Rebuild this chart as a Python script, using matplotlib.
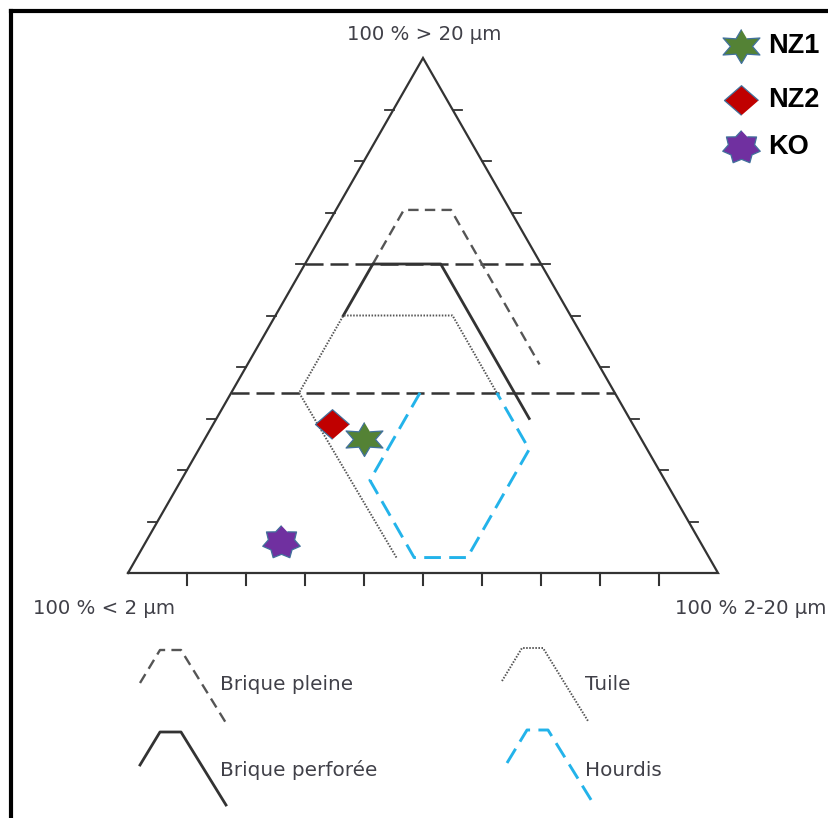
import numpy as np
import matplotlib.pyplot as plt
from matplotlib.lines import Line2D

plt.rcParams['lines.scale_dashes'] = False

# échantillons : % < 2 µm, % 2-20 µm, % > 20 µm
echantillons = ["NZ1", "NZ2", "KO"]
argile = [47, 51, 71]
limon = [27, 20, 23]
sable = [26, 29, 6]
couleurs = ["#548235", "#C00000", "#7030A0"]

# domaines (% 2-20 µm, % > 20 µm) le long de chaque contour
brique_pleine_limon = [11.5, 11.5, 19.5, 49.5]
brique_pleine_sable = [60, 70.5, 70.5, 40.5]
brique_perforee_limon = [11.5, 11.5, 23, 53]
brique_perforee_sable = [50, 60, 60, 30]
tuile_limon = [44, 11.5, 11.5, 30, 45]
tuile_sable = [3, 35, 50, 50, 35]
hourdis_limon = [32, 32, 47, 56, 56, 45]
hourdis_sable = [35, 18, 3, 3, 24, 35]
limites_sable = [60, 35]
graduations = [10, 20, 30, 40, 50, 60, 70, 80, 90]


def tern(l, s):
    l = np.asarray(l, float) / 100
    s = np.asarray(s, float) / 100
    return l + s / 2, s


def star(n, inner, stretch):
    a = np.pi / 2 + np.arange(2 * n) * np.pi / n
    r = np.where(np.arange(2 * n) % 2 == 0, 1.0, inner)
    return list(zip(stretch * r * np.cos(a), r * np.sin(a)))


marqueurs = [star(6, 0.52, 1.25), [(1.15, 0), (0, 1), (-1.15, 0), (0, -1)], star(7, 0.7, 1.14)]
tailles = [26.5, 24.5, 27]

W, H = 829, 818
fig = plt.figure(figsize=(W / 100, H / 100), dpi=100)
ax = fig.add_axes([0, 0, 1, 1])
ax.set_xlim(-128 / 590, 701 / 590)
ax.set_ylim(-245 / 515, 573 / 515)
ax.axis('off')

gris = "#333333"
# triangle
ax.plot([0, 1, 0.5, 0], [0, 0, 1, 0], color=gris, lw=1.6, solid_joinstyle='miter')
for g in graduations:
    x = g / 100
    ax.plot([x, x], [0, -12 / 515], color=gris, lw=1.5)
    y = g / 100
    ax.plot([y / 2 - 9 / 590, y / 2], [y, y], color=gris, lw=1.3)
    ax.plot([1 - y / 2, 1 - y / 2 + 9 / 590], [y, y], color=gris, lw=1.3)

for s in limites_sable:
    t = s / 100
    ax.plot([t / 2, 1 - t / 2], [t, t], color=gris, lw=1.8, dashes=(13, 5))

# domaines
pleine = dict(color="#555555", lw=1.7, dashes=(7.5, 4.5))
perforee = dict(color=gris, lw=2.0)
tuile = dict(color="#555555", lw=1.4, dashes=(1.1, 1.1))
hourdis = dict(color="#23B3EA", lw=2.1, dashes=(12, 6))

x, y = tern(brique_pleine_limon, brique_pleine_sable)
ax.plot(x, y, **pleine)
x, y = tern(brique_perforee_limon, brique_perforee_sable)
ax.plot(x, y, **perforee)
x, y = tern(tuile_limon, tuile_sable)
ax.plot(x, y, **tuile)
x, y = tern(hourdis_limon, hourdis_sable)
ax.plot(x, y, **hourdis)

# échantillons
x, y = tern(limon, sable)
for xi, yi, m, c, ms in zip(x, y, marqueurs, couleurs, tailles):
    ax.plot(xi, yi, marker=m, ms=ms, mfc=c, mec="#41719C", mew=0.9, ls='none', zorder=5)


def fx(p):
    return p / W


def fy(p):
    return 1 - p / H


txt = "#404048"
fig.text(fx(424), fy(35), "100 % > 20 µm", ha='center', va='center', fontsize=14.2, color=txt)
fig.text(fx(33), fy(609), "100 % < 2 µm", ha='left', va='center', fontsize=14.2, color=txt)
fig.text(fx(826), fy(609), "100 % 2-20 µm", ha='right', va='center', fontsize=14.2, color=txt)

# légende des échantillons
for i, (nom, m, c, ms) in enumerate(zip(echantillons, marqueurs, couleurs, tailles)):
    py = [46, 100, 147][i]
    fig.add_artist(Line2D([fx(741)], [fy(py)], marker=m, ms=ms, mfc=c, mec="#41719C", mew=0.9,
                          ls='none', transform=fig.transFigure))
    fig.text(fx(768), fy(py), nom, ha='left', va='center', fontsize=19.5, fontweight='bold',
             family='Liberation Sans', color='black')

# légende des domaines
forme = np.array([(0, 33), (20, 0), (41, 0), (86, 73)])
cles = [
    ("Brique pleine", (140, 650), pleine, (220, 685)),
    ("Brique perforée", (140, 732), perforee, (220, 770)),
    ("Tuile", (502, 648), tuile, (585, 685)),
    ("Hourdis", (507, 730), hourdis, (585, 770)),
]
for nom, (ox, oy), style, (tx, ty) in cles:
    fig.add_artist(Line2D(fx(ox + forme[:, 0]), fy(oy + forme[:, 1]), transform=fig.transFigure, **style))
    fig.text(fx(tx), fy(ty), nom, ha='left', va='center', fontsize=14.4, color=txt)

# cadre
fig.add_artist(Line2D([fx(11), fx(11)], [0, fy(11)], color='black', lw=3, transform=fig.transFigure,
                      solid_capstyle='projecting'))
fig.add_artist(Line2D([fx(11), 1], [fy(11), fy(11)], color='black', lw=3, transform=fig.transFigure,
                      solid_capstyle='projecting'))

fig.savefig("out.png", dpi=100)
